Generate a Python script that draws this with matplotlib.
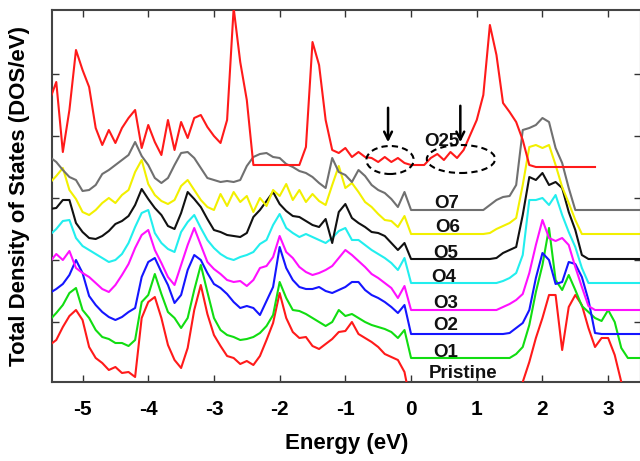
import numpy as np
import matplotlib
matplotlib.use("Agg")
import matplotlib.pyplot as plt
from matplotlib.patches import Ellipse

# Energy sampling grid (eV), 0.1 eV steps from -5.5 to 3.5
energy = np.round(np.linspace(-5.5, 3.5, 91), 1)

nan = np.nan
# Stacked total DOS curves (arbitrary units, as plotted)
pristine = [37, 42, 55, 66, 72, 62, 35, 24, 19, 12,
            15, 9, 10, 5, 64, 80, 85, 64, 37, 22,
            14, 34, 72, 97, 68, 47, 36, 26, 24, 18,
            21, 17, 26, 42, 59, 89, 64, 50, 44, 45,
            36, 33, 38, 43, 50, 51, 60, 48, 44, 40,
            35, 28, 25, 22, 10] + [-23] * 17 + \
           [0, 20, 44, 64, 87, 87, 32, 75, 87, 77, 54, 35, 44, 44, 27, 0] + [-23] * 3

o1 = [62, 69, 77, 89, 94, 72, 64, 52, 45, 43,
      39, 39, 36, 42, 80, 87, 108, 88, 70, 64,
      54, 64, 92, 117, 90, 64, 52, 47, 45, 42,
      43, 45, 49, 56, 67, 100, 84, 72, 71, 68,
      64, 60, 56, 60, 72, 66, 68, 64, 60, 57,
      55, 53, 50, 44, 52] + [24] * 16 + \
     [28, 35, 57, 90, 117, 154, 102, 92, 107, 92, 76, 70, 64, 61, 72, 60, 34] + [24] * 3

o2 = [89, 93, 98, 107, 122, 109, 86, 77, 70, 65,
      62, 65, 70, 74, 105, 120, 124, 110, 97, 79,
      87, 112, 127, 122, 109, 98, 94, 88, 80, 74,
      76, 74, 67, 81, 95, 135, 114, 102, 95, 93,
      93, 95, 91, 89, 92, 95, 100, 100, 92, 87,
      84, 80, 75, 69, 77] + [48] * 15 + \
     [49, 54, 59, 72, 104, 129, 122, 98, 100, 120, 118, 105, 82, 49] + [48] * 7

o3 = [120, 128, 122, 131, 114, 109, 105, 99, 93, 90,
      97, 107, 118, 134, 147, 152, 132, 119, 105, 97,
      117, 137, 154, 137, 120, 113, 108, 102, 100, 101,
      96, 102, 114, 116, 125, 146, 130, 124, 115, 110,
      107, 109, 112, 116, 124, 132, 127, 121, 115, 108,
      104, 99, 94, 84, 96] + [72] * 14 + \
     [75, 78, 82, 88, 109, 137, 162, 144, 141, 144, 137, 115, 95, 76] + [72] * 8

o4 = [147, 153, 161, 162, 144, 136, 132, 128, 124, 120,
      122, 128, 139, 155, 169, 172, 149, 139, 133, 130,
      150, 160, 167, 154, 142, 134, 128, 124, 122, 125,
      127, 130, 138, 142, 157, 168, 154, 149, 145, 148,
      145, 142, 139, 144, 151, 154, 142, 142, 137, 132,
      128, 124, 119, 112, 124] + [99] * 14 + \
     [101, 104, 109, 127, 182, 182, 184, 177, 187, 167, 150, 135, 114] + [99] * 9

o5 = [173, 174, 182, 182, 159, 150, 144, 143, 146, 151,
      158, 161, 166, 177, 193, 183, 174, 167, 156, 153,
      169, 190, 183, 175, 163, 152, 150, 147, 146, 145,
      149, 165, 172, 181, 190, 178, 171, 166, 165, 161,
      157, 155, 163, 139, 170, 178, 164, 159, 155, 150,
      149, 146, 139, 132, 139] + [123] * 13 + \
     [124, 129, 132, 135, 167, 205, 202, 209, 197, 200, 194, 170, 152, 127] + [123] * 9

o6 = [199, 206, 214, 192, 183, 170, 167, 172, 179, 184,
      179, 187, 192, 210, 222, 198, 187, 181, 178, 182,
      196, 202, 192, 182, 175, 172, 188, 176, 190, 180,
      186, 170, 184, 176, 192, 186, 198, 182, 192, 180,
      188, 181, 177, 197, 216, 194, 199, 190, 180, 175,
      168, 162, 161, 155, 166] + [148] * 12 + \
     [149, 153, 156, 159, 164, 197, 235, 237, 234, 237, 217, 195, 179, 162] + [148] * 10

o7 = [225, 220, 212, 205, 202, 191, 192, 197, 208, 212,
      217, 222, 227, 240, 226, 217, 204, 199, 204, 217,
      229, 230, 224, 214, 204, 202, 200, 201, 200, 202,
      216, 225, 228, 229, 225, 224, 218, 215, 211, 209,
      205, 199, 194, 224, 210, 207, 200, 212, 206, 197,
      192, 189, 183, 175, 190] + [172] * 12 + \
     [177, 182, 185, 186, 197, 252, 254, 257, 264, 260, 234, 219, 194] + [172] * 11

o25 = [282, 300, 230, 272, 332, 312, 295, 254, 237, 252,
       239, 254, 264, 272, 234, 257, 240, 227, 262, 232,
       260, 244, 264, 267, 255, 246, 239, 262, 374, 320,
       282, 217, 217, 217, 217, 217, 217, 217, 217, 235,
       340, 317, 262, 232, 229, 234, 225, 230, 225, 224,
       220, 225, 220, 224, 219,
       217, 217, 217, 224, 228, 222, 230, 224, 232, 247,
       262, 287, 357, 327, 279, 270, 260, 242, 217] + [215] * 10 + [nan] * 7

series = [
    ("Pristine", pristine, "#ff1a1a"),
    ("O1", o1, "#11dd11"),
    ("O2", o2, "#1515ff"),
    ("O3", o3, "#ff10ff"),
    ("O4", o4, "#22eeee"),
    ("O5", o5, "#111111"),
    ("O6", o6, "#f2f000"),
    ("O7", o7, "#707070"),
    ("O25", o25, "#ff1a1a"),
]

label_pos = {
    "O25": (0.47, 240), "O7": (0.55, 179), "O6": (0.56, 155), "O5": (0.52, 129),
    "O4": (0.49, 105), "O3": (0.52, 79), "O2": (0.52, 57), "O1": (0.52, 30),
    "Pristine": (0.79, 9),
}

fam = ["Liberation Sans", "DejaVu Sans"]

fig = plt.figure(figsize=(6.4, 4.61), dpi=100)
ax = fig.add_axes([52 / 640, 1 - 382 / 461, 589 / 640, 372 / 461])

for name, vals, col in series:
    assert len(vals) == len(energy), name
    ax.plot(energy, vals, color=col, lw=1.5, zorder=3)

for name, (x, y) in label_pos.items():
    ax.text(x, y, name, ha="center", va="center", fontsize=13.5, fontweight="bold",
            family=fam, color="#111111", zorder=5)

# dashed ellipses and arrows marking the gap states
for (cx, cy, w, h) in [(-0.32, 222, 0.72, 28), (0.76, 223, 1.04, 28)]:
    ax.add_patch(Ellipse((cx, cy), w, h, fill=False, ls=(0, (3, 2)), lw=1.5,
                         ec="black", zorder=6))
for (x, y0, y1) in [(-0.35, 277, 237), (0.75, 279, 237)]:
    ax.annotate("", xy=(x, y1), xytext=(x, y0),
                arrowprops=dict(arrowstyle="->", lw=1.8, color="black",
                                mutation_scale=14), zorder=7)

ax.set_xlim(-5.465, 3.5)
ax.set_ylim(0, 372)
ax.set_xticks([-5, -4, -3, -2, -1, 0, 1, 2, 3])
ax.set_xticklabels(["-5", "-4", "-3", "-2", "-1", "0", "1", "2", "3"])
ax.set_yticks([60, 122, 184, 246, 308])
ax.set_yticklabels([])
ax.tick_params(direction="in", length=5, width=1, top=True, right=True,
               colors="#333333", labelcolor="black", labelsize=15, pad=13)
for lab in ax.get_xticklabels():
    lab.set_fontweight("bold")
    lab.set_family(fam)
for sp in ax.spines.values():
    sp.set_color("#444444")
    sp.set_linewidth(1.5)

ax.set_xlabel("Energy (eV)", fontsize=16, fontweight="bold", family=fam, labelpad=10)
ax.set_ylabel("Total Density of States (DOS/eV)", fontsize=16, fontweight="bold",
              family=fam)
ax.yaxis.set_label_coords(-0.037, 0.5)

fig.savefig("out.png", dpi=100)
